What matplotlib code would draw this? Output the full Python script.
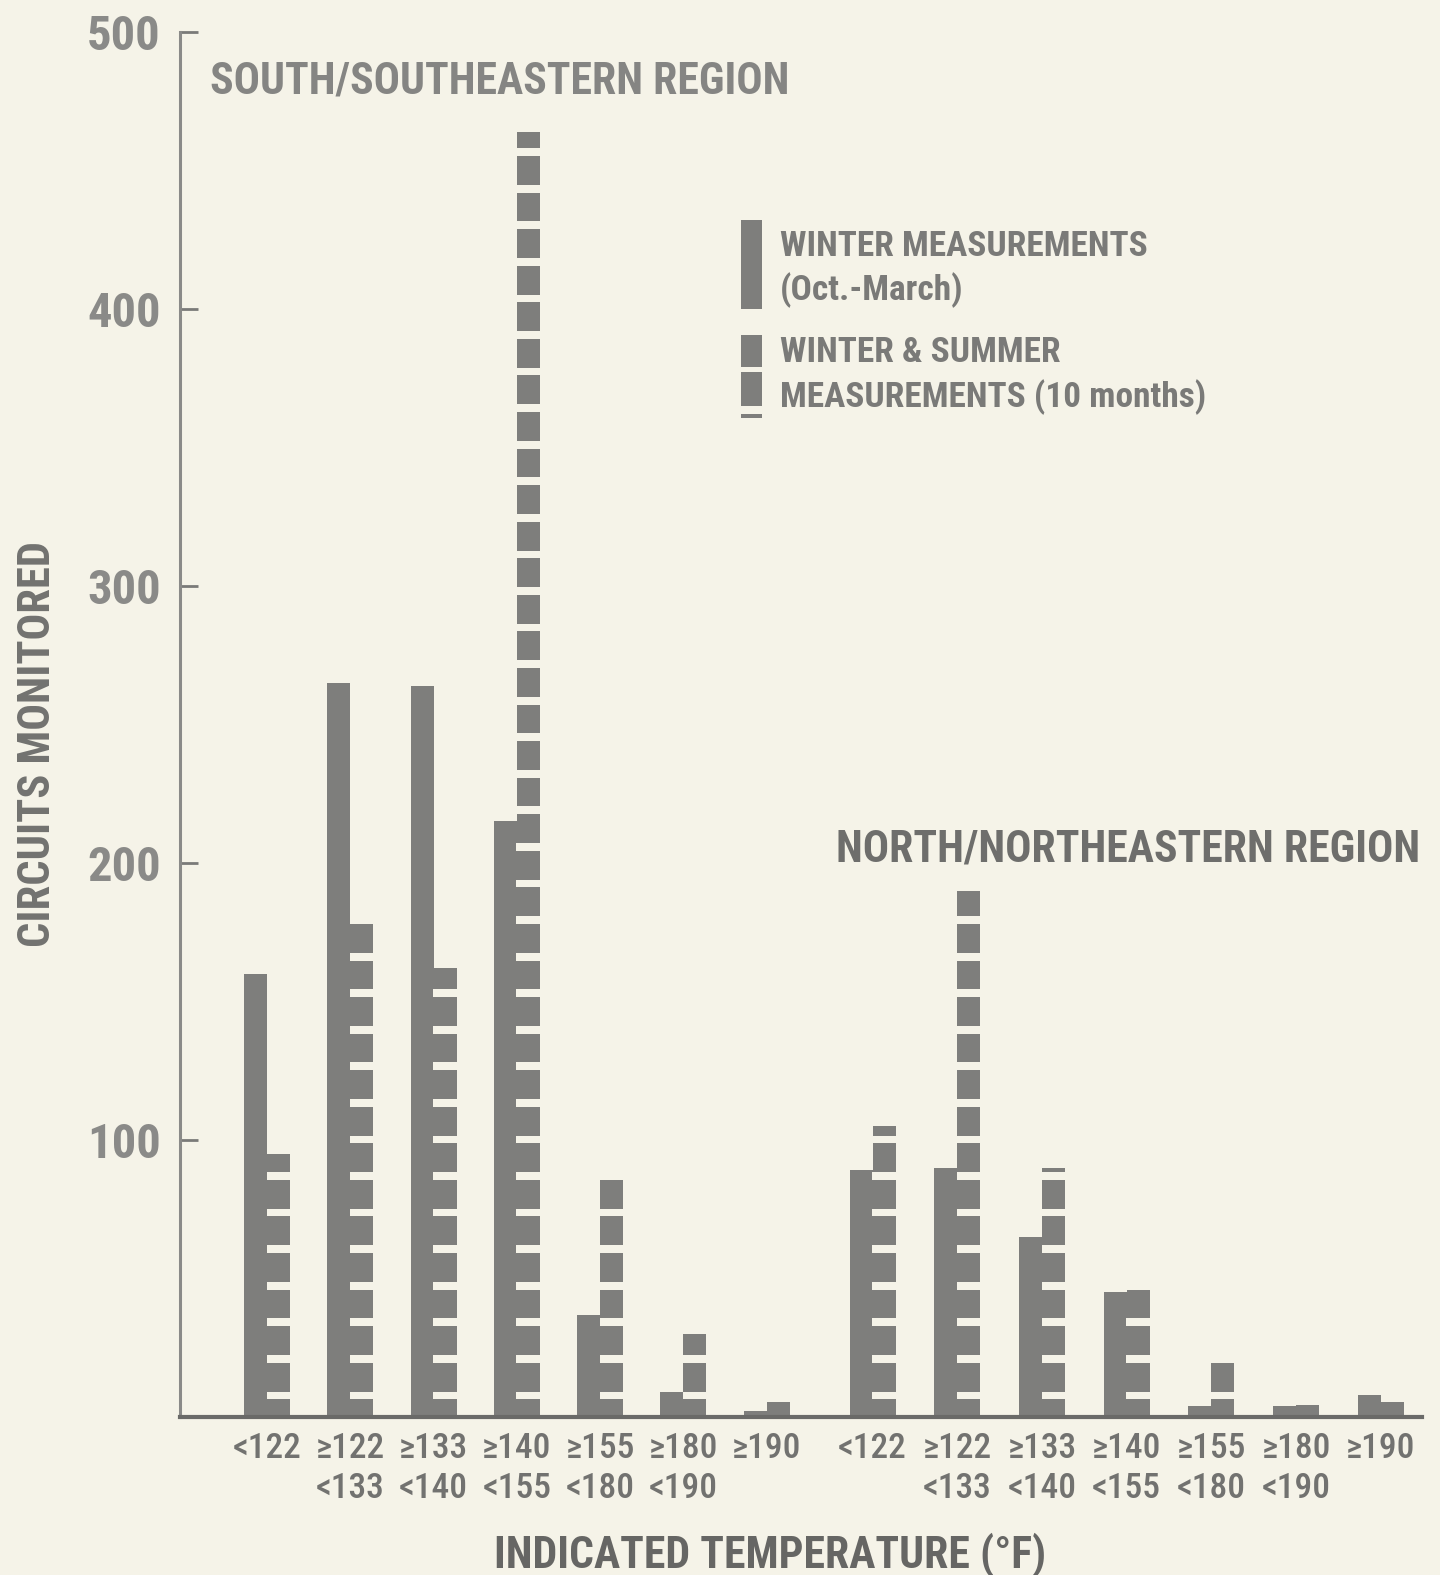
import numpy as np
import matplotlib.pyplot as plt
from matplotlib import font_manager
from matplotlib.patches import Rectangle

narrow = []
for fam in ['Roboto Condensed', 'Archivo Narrow', 'Liberation Sans Narrow']:
    try:
        font_manager.findfont(font_manager.FontProperties(family=fam), fallback_to_default=False)
        narrow.append(fam)
    except ValueError:
        pass
plt.rcParams['font.family'] = narrow[:1] + ['DejaVu Sans']
k = 1.0 if narrow else 0.75  # DejaVu is much wider

# circuits monitored per temperature band
south_winter = [160, 265, 264, 215, 37, 9, 2]
south_both = [95, 180, 162, 464, 86, 30, 5.5]
north_winter = [89, 90, 65, 45, 4, 4, 8]
north_both = [105, 190, 90, 48, 20, 4.3, 5.5]

south_labels = ['<122', '≥122\n<133', '≥133\n<140', '≥140\n<155', '≥155\n<180', '≥180\n<190', '≥190']
north_labels = ['<122', '≥122\n<133', '≥133\n<140', '≥140\n<155', '≥155\n<180', '≥180\n<190', '≥190']

bg = '#f5f3e8'
bar_c = '#7e7e7c'
txt_c = '#727270'

# horizontal breaks in the "winter & summer" bars
gap_first = 7.8
gap_step = 13.2
gap_w = 2.8

fig = plt.figure(figsize=(14.4, 15.75), dpi=100, facecolor=bg)
ax = fig.add_axes([180/1440, 1 - 1417/1575, 1242/1440, 1385/1575])
ax.set_facecolor(bg)

w = 0.276
south_x = np.arange(len(south_winter))
north_x = 7.27 + 1.017 * np.arange(len(north_winter))


def draw_group(xs, winter, both):
    ax.bar(xs - w/2, winter, width=w, color=bar_c, linewidth=0)
    ax.bar(xs + w/2, both, width=w, color=bar_c, linewidth=0)
    for x, v in zip(xs, both):
        g = gap_first - gap_w/2
        while g < v:
            ax.bar(x + w/2, min(gap_w, v - g), bottom=g, width=w + 0.01,
                   color=bg, linewidth=0)
            g += gap_step


draw_group(south_x, south_winter, south_both)
draw_group(north_x, north_winter, north_both)

ax.set_xlim(-1.044, 13.866)
ax.set_ylim(0, 500)

ax.spines['top'].set_visible(False)
ax.spines['right'].set_visible(False)
ax.spines['left'].set_color('#8a8a88')
ax.spines['left'].set_linewidth(2.2)
ax.spines['bottom'].set_color('#6a6a68')
ax.spines['bottom'].set_linewidth(3)

ax.set_yticks([100, 200, 300, 400, 500])
ax.tick_params(axis='y', direction='in', length=13, width=2, color='#7a7a78',
               pad=14, labelsize=35 * k, labelcolor='#8a8a88')
for t in ax.get_yticklabels():
    t.set_fontweight('bold')

ax.set_xticks(np.concatenate([south_x, north_x]))
ax.set_xticklabels(south_labels + north_labels, fontsize=25.5 * k, color=txt_c,
                   linespacing=1.25, fontweight='medium')
ax.tick_params(axis='x', length=0, pad=11)

fig.text(38/1440, 1 - 744/1575, 'CIRCUITS MONITORED', fontsize=32 * k, color=txt_c,
         fontweight='bold', rotation=90, ha='center', va='center')
fig.text(770/1440, 1 - 1555/1575, 'INDICATED TEMPERATURE (°F)', fontsize=31.5 * k,
         color='#666664', fontweight='bold', ha='center', va='center')

fig.text(210/1440, 1 - 81/1575, 'SOUTH/SOUTHEASTERN REGION', fontsize=31.5 * k,
         color='#858583', fontweight='bold', ha='left', va='center')
fig.text(836/1440, 1 - 850/1575, 'NORTH/NORTHEASTERN REGION', fontsize=31.5 * k,
         color='#6e6e6c', fontweight='bold', ha='left', va='center')


# legend
def swatch(y0, y1):
    fig.add_artist(Rectangle((741/1440, 1 - y1/1575), 21/1440, (y1 - y0)/1575,
                             transform=fig.transFigure, color=bar_c, linewidth=0))


swatch(220, 309)
swatch(335, 367)
swatch(372, 406)
swatch(414, 418)
leg_kw = dict(fontsize=25.5 * k, color='#7a7a78', fontweight='bold', ha='left', va='center')
fig.text(780/1440, 1 - 246/1575, 'WINTER MEASUREMENTS', **leg_kw)
fig.text(780/1440, 1 - 290/1575, '(Oct.-March)', **leg_kw)
fig.text(780/1440, 1 - 352/1575, 'WINTER & SUMMER', **leg_kw)
fig.text(780/1440, 1 - 397/1575, 'MEASUREMENTS (10 months)', **leg_kw)

fig.savefig('out.png', dpi=100, facecolor=bg)
